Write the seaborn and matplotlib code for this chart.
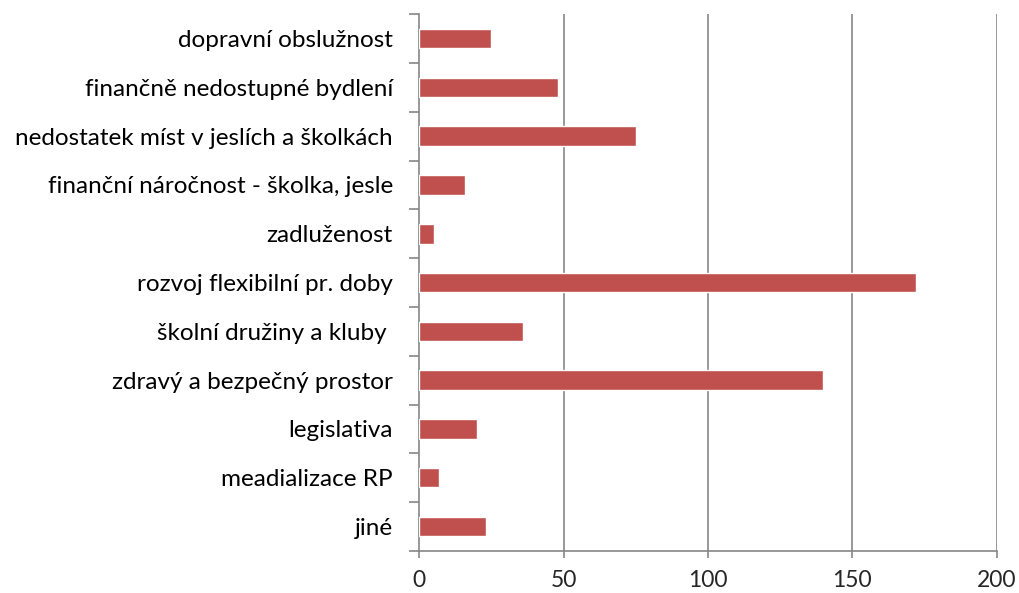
import matplotlib
matplotlib.use('Agg')
import matplotlib.pyplot as plt
import seaborn as sb
import numpy as np
import pandas as pd

categories = ['dopravní obslužnost', 'finančně nedostupné bydlení',
              'nedostatek míst v jeslích a školkách', 'finanční náročnost - školka, jesle',
              'zadluženost', 'rozvoj flexibilní pr. doby', 'školní družiny a kluby ',
              'zdravý a bezpečný prostor', 'legislativa', 'meadializace RP', 'jiné']
values = [25, 48, 75, 16, 5, 172, 36, 140, 20, 7, 23]
x_ticks = [0, 50, 100, 150, 200]

sb.set_style('white')
plt.rcParams['font.family'] = ['Lato', 'DejaVu Sans']

df = pd.DataFrame({'cat': categories, 'val': values})

fig = plt.figure(figsize=(10.2, 5.93), dpi=100)
ax = fig.add_axes([0.411, 0.071, 0.566, 0.905])

sb.barplot(data=df, x='val', y='cat', orient='h', color='#C0504D',
           saturation=1, width=0.4, ax=ax, zorder=3)

ax.set_xlim(0, 200)
ax.set_ylim(len(categories) - 0.5, -0.5)
ax.set_xticks(x_ticks)
ax.set_xlabel('')
ax.set_ylabel('')

grid_c = '#868686'
for v in x_ticks[1:]:
    ax.axvline(v, color=grid_c, lw=1.2, zorder=1)

for s in ['top', 'right']:
    ax.spines[s].set_visible(False)
for s in ['left', 'bottom']:
    ax.spines[s].set_color(grid_c)
    ax.spines[s].set_linewidth(1.2)

# category boundary ticks on y axis
ax.set_yticks(np.arange(-0.5, len(categories)), minor=True)
ax.tick_params(axis='y', which='major', length=0, pad=19, labelsize=17.5, labelcolor='black')
ax.tick_params(axis='y', which='minor', left=True, length=7, width=1.2, color=grid_c,
               direction='out')
ax.tick_params(axis='x', which='major', length=5, width=1.2, color=grid_c, direction='out',
               labelsize=16.5, pad=9, bottom=True)

fig.savefig('out.png', dpi=100)
